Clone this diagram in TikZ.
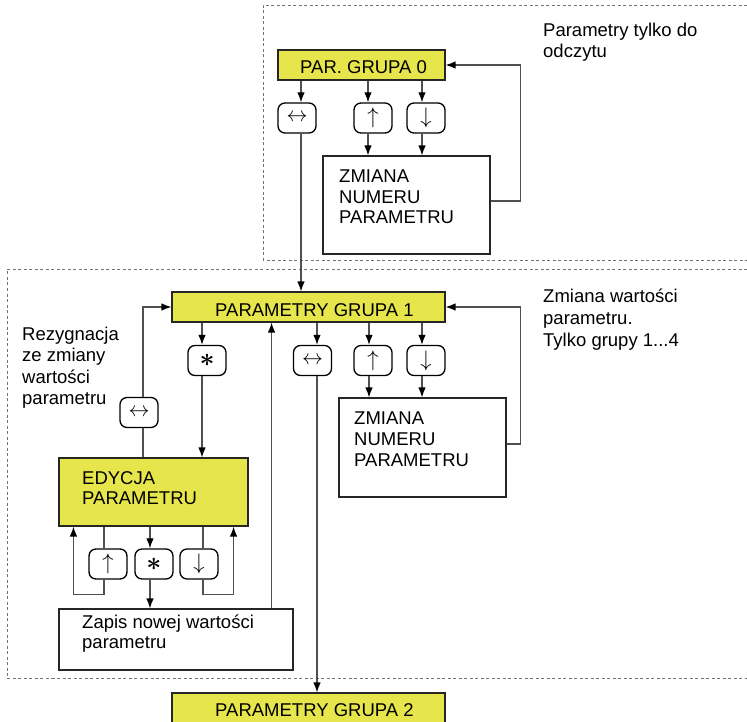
\documentclass[tikz,border=0pt]{standalone}
\usepackage{bm}
\usepackage{graphicx}
\usepackage{fontspec}
\setmainfont{Liberation Sans}
\usetikzlibrary{arrows.meta}
\definecolor{ylw}{RGB}{230,230,76}
\definecolor{connc}{RGB}{80,80,80}
\newcommand{\bast}{\resizebox{15pt}{!}{$\bm{\ast}$}}
\newcommand{\kup}{\resizebox*{!}{20pt}{$\uparrow$}}
\newcommand{\kdn}{\resizebox*{!}{20pt}{$\downarrow$}}
\newcommand{\klr}{\resizebox{21pt}{!}{$\leftrightarrow$}}
\begin{document}
\begin{tikzpicture}[x=1pt,y=-1pt,
 txt/.style={inner sep=0pt, anchor=base west, font=\fontsize{18.5}{21}\selectfont},
 ybox/.style={draw=black!85, line width=1.1pt, fill=ylw, inner sep=0pt},
 wbox/.style={draw=black!85, line width=1.1pt, fill=white, inner sep=0pt},
 keybox/.style={draw=black, line width=1.3pt, rounded corners=7pt, minimum width=38pt, minimum height=30pt, inner sep=0pt},
 conn/.style={draw=connc, line width=1.2pt},
 arr/.style={conn, -{Latex[length=10pt,width=7.5pt,color=black]}},
 frame/.style={draw=black!55, line width=0.8pt, dash pattern=on 3pt off 2.5pt}]
\clip (0,0) rectangle (747,722);
\fill[white] (0,0) rectangle (747,722);
% dashed frames
\draw[frame] (780,5) -- (263,5) -- (263,260) -- (780,260);
\draw[frame] (780,269) -- (7,269) -- (7,678) -- (780,678);

% boxes
\node[ybox, minimum width=167pt, minimum height=30pt] (p0) at (361.5,65) {};
\node[wbox, minimum width=167pt, minimum height=98pt] (z0) at (406.5,205) {};
\node[ybox, minimum width=273pt, minimum height=30pt] (p1) at (308.5,307) {};
\node[wbox, minimum width=167pt, minimum height=99pt] (z1) at (422.5,447.5) {};
\node[ybox, minimum width=189pt, minimum height=68pt] (ed) at (153.5,492) {};
\node[wbox, minimum width=234pt, minimum height=61pt] (zp) at (176,639.5) {};
\node[ybox, minimum width=273pt, minimum height=30pt] (p2) at (308.5,708) {};

% keys
\node[keybox] (k0a) at (297,118) {\klr};
\node[keybox] (k0b) at (373,118) {\kup};
\node[keybox] (k0c) at (426,118) {\kdn};
\node[keybox] (k1s) at (207,360.5) {\bast};
\node[keybox] (k1h) at (312.5,360.5) {\klr};
\node[keybox] (k1b) at (373,360.5) {\kup};
\node[keybox] (k1c) at (426,360.5) {\kdn};
\node[keybox] (kL) at (139,412.5) {\klr};
\node[keybox] (kbu) at (108,564) {\kup};
\node[keybox] (kbs) at (154,564) {\bast};
\node[keybox] (kbd) at (199,564) {\kdn};

% texts
\node[txt] (t0) at (300,74) {PAR. GRUPA 0};
\node[txt] (z0a) at (339,183) {ZMIANA};
\node[txt] (z0b) at (339,203.5) {NUMERU};
\node[txt] (z0c) at (339,224) {PARAMETRU};
\node[txt] (n0a) at (543,37) {Parametry tylko do};
\node[txt] (n0b) at (543,58) {odczytu};
\node[txt] (t1) at (215,316) {PARAMETRY GRUPA 1};
\node[txt] (n1a) at (543,302) {Zmiana wartości};
\node[txt] (n1b) at (543,324) {parametru.};
\node[txt] (n1c) at (543,346) {Tylko grupy 1...4};
\node[txt] (z1a) at (354,424) {ZMIANA};
\node[txt] (z1b) at (354,445) {NUMERU};
\node[txt] (z1c) at (354,466) {PARAMETRU};
\node[txt] (r1) at (22,340) {Rezygnacja};
\node[txt] (r2) at (22,361.5) {ze zmiany};
\node[txt] (r3) at (22,383) {wartości};
\node[txt] (r4) at (22,404.5) {parametru};
\node[txt] (e1) at (82,484) {EDYCJA};
\node[txt] (e2) at (82,504.5) {PARAMETRU};
\node[txt] (s1) at (82,628) {Zapis nowej wartości};
\node[txt] (s2) at (82,648) {parametru};
\node[txt] (t2) at (215,716) {PARAMETRY GRUPA 2};

% connectors group 0
\draw[arr] ([xshift=4pt]k0a.north |- p0.south) -- ([xshift=4pt]k0a.north);
\draw[arr] ([xshift=-5pt]k0b.north |- p0.south) -- ([xshift=-5pt]k0b.north);
\draw[arr] ([xshift=-4pt]k0c.north |- p0.south) -- ([xshift=-4pt]k0c.north);
\draw[arr] ([xshift=-5pt]k0b.south) -- ([xshift=-5pt]k0b.south |- z0.north);
\draw[arr] ([xshift=-4pt]k0c.south) -- ([xshift=-4pt]k0c.south |- z0.north);
\draw[arr] ([yshift=4pt]z0.east) -- ++(30,0) |- (p0.east);
\draw[arr] ([xshift=4pt]k0a.south) -- ([xshift=4pt]k0a.south |- p1.north);

% connectors group 1
\draw[arr] ([xshift=-5pt]k1s.north |- p1.south) -- ([xshift=-5pt]k1s.north);
\draw[arr] ([xshift=4.5pt]k1h.north |- p1.south) -- ([xshift=4.5pt]k1h.north);
\draw[arr] ([xshift=-4pt]k1b.north |- p1.south) -- ([xshift=-4pt]k1b.north);
\draw[arr] ([xshift=-4pt]k1c.north |- p1.south) -- ([xshift=-4pt]k1c.north);
\draw[arr] ([xshift=-4pt]k1b.south) -- ([xshift=-4pt]k1b.south |- z1.north);
\draw[arr] ([xshift=-4pt]k1c.south) -- ([xshift=-4pt]k1c.south |- z1.north);
\draw[arr] ([yshift=3.5pt]z1.east) -- ++(14,0) |- (p1.east);
\draw[arr] ([xshift=-5pt]k1s.south) -- ([xshift=-5pt]k1s.south |- ed.north);
\draw[conn] ([xshift=4pt]kL.south |- ed.north) -- ([xshift=4pt]kL.south);
\draw[arr] ([xshift=4pt]kL.north) |- (p1.west);
\draw[arr] ([xshift=4.5pt]k1h.south) -- ([xshift=4.5pt]k1h.south |- p2.north);
\draw[arr] ([xshift=-22pt]zp.north east) -- ([xshift=-22pt]zp.north east |- p1.south);

% edit loop
\draw[conn] ([xshift=-4pt]kbu.north |- ed.south) -- ([xshift=-4pt]kbu.north);
\draw[arr] ([xshift=-4pt]kbu.south) -- ++(0,15) -| ([xshift=15pt]ed.south west);
\draw[conn] ([xshift=4pt]kbd.north |- ed.south) -- ([xshift=4pt]kbd.north);
\draw[arr] ([xshift=4pt]kbd.south) -- ++(0,15) -| ([xshift=-15pt]ed.south east);
\draw[arr] ([xshift=-4pt]kbs.north |- ed.south) -- ([xshift=-4pt]kbs.north);
\draw[arr] ([xshift=-4pt]kbs.south) -- ([xshift=-4pt]kbs.south |- zp.north);
\end{tikzpicture}
\end{document}
